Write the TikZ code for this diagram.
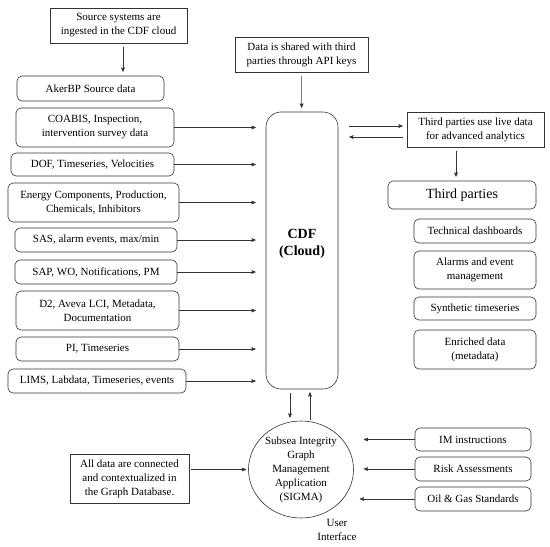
\documentclass[tikz,border=0pt]{standalone}
\usepackage{fontspec}
\setmainfont{Liberation Serif}
\usetikzlibrary{shapes,arrows,positioning,calc}
\tikzset{
  %Define standard arrow tip
  >=stealth',
  %Define style for plain boxes
  note/.style={
    rectangle,
    draw=black!80, line width=0.6pt,
    inner sep=2pt,
    minimum height=35pt,
    align=center},
  %Define style for rounded boxes
  punkt/.style={
    rectangle,
    rounded corners=5pt,
    draw=black!80, line width=0.6pt,
    inner sep=2pt,
    minimum height=24pt,
    align=center},
  % Define arrow style
  pil/.style={
    ->,
    black!80,
    line width=0.6pt}
}
\begin{document}
\begin{tikzpicture}[x=1pt,y=-1pt,font=\fontsize{11}{14}\selectfont]
  \useasboundingbox (0,0) rectangle (550,547);
  % left column: source systems
  \node[note, minimum width=137pt] (ingest) at (118.5,25.5) {Source systems are\\ ingested in the CDF cloud};
  \node[punkt, minimum width=147pt, minimum height=25pt] (aker) at (90.5,88.5) {AkerBP Source data};
  \node[punkt, minimum width=158pt, minimum height=39pt] (coabis) at (95,127.5) {COABIS, Inspection,\\ intervention survey data};
  \node[punkt, minimum width=163pt, minimum height=23pt] (dof) at (92.5,164.5) {DOF, Timeseries, Velocities};
  \node[punkt, minimum width=171pt, minimum height=39pt] (energy) at (93.5,202.5) {Energy Components, Production,\\ Chemicals, Inhibitors};
  \node[punkt, minimum width=162pt] (sas) at (96,240) {SAS, alarm events, max/min};
  \node[punkt, minimum width=162pt] (sap) at (96,272) {SAP, WO, Notifications, PM};
  \node[punkt, minimum width=163pt, minimum height=39pt] (dtwo) at (97.5,310.5) {D2, Aveva LCI, Metadata,\\ Documentation};
  \node[punkt, minimum width=163pt] (pi) at (97.5,349) {PI, Timeseries};
  \node[punkt, minimum width=178pt] (lims) at (97,381) {LIMS, Labdata, Timeseries, events};
  \node[note, minimum width=119pt, minimum height=49pt] (graphdb) at (129.5,478.5) {All data are connected\\ and contextualized in\\ the Graph Database.};
  % middle column
  \node[note, minimum width=133pt] (shared) at (301.5,54.5) {Data is shared with third\\ parties through API keys};
  \node[punkt, rounded corners=15pt, minimum width=72pt, minimum height=277pt,
        font=\fontsize{14}{17}\selectfont\bfseries] (cdf) at (302,250.5) {CDF\\ (Cloud)\\ \mbox{}};
  \node[ellipse, draw=black!80, line width=0.6pt, minimum width=105pt, minimum height=97pt,
        inner sep=0pt, align=center] (sigma) at (301,469.5) {Subsea Integrity\\ Graph\\ Management\\ Application\\ (SIGMA)};
  \node[align=center] (ui) at (337,530) {User\\ Interface};
  % right column: third parties
  \node[note, minimum width=137pt] (live) at (475.5,129.5) {Third parties use live data\\ for advanced analytics};
  \node[punkt, minimum width=148pt, minimum height=28pt, font=\fontsize{14}{17}\selectfont] (third) at (462,195) {Third parties};
  \node[punkt, minimum width=122pt] (dash) at (475,231) {Technical dashboards};
  \node[punkt, minimum width=122pt, minimum height=38pt] (alarm) at (475,270) {Alarms and event\\ management};
  \node[punkt, minimum width=122pt, minimum height=23pt] (synth) at (475,308.5) {Synthetic timeseries};
  \node[punkt, minimum width=122pt, minimum height=39pt] (enrich) at (475,349.5) {Enriched data\\ (metadata)};
  \node[punkt, minimum width=116pt, minimum height=23pt] (iminst) at (473,439.5) {IM instructions};
  \node[punkt, minimum width=116pt] (risk) at (473,469) {Risk Assessments};
  \node[punkt, minimum width=116pt] (oilgas) at (473,499) {Oil \& Gas Standards};
  % connectors
  \path[pil, shorten >=10pt]
  (coabis) edge (coabis -| cdf.west)
  (dof) edge (dof -| cdf.west)
  (energy) edge (energy -| cdf.west)
  (sas) edge (sas -| cdf.west)
  (sap) edge (sap -| cdf.west)
  (dtwo) edge (dtwo -| cdf.west)
  (pi) edge (pi -| cdf.west)
  (lims) edge (lims -| cdf.west)
  (iminst) edge (iminst -| sigma.east)
  (risk) edge (risk -| sigma.east)
  ;
  \path[pil, shorten <=4pt, shorten >=4pt]
  ($(ingest.south)+(4.5,0)$) edge ($(ingest.south |- aker.north)+(4.5,0)$)
  (shared) edge (cdf)
  ($(cdf.east |- live.west)+(0,-3.5)$) edge[shorten <=11pt] ($(live.west)+(0,-3.5)$)
  ($(live.west)+(0,7.5)$) edge[shorten >=11pt] ($(cdf.east |- live.west)+(0,7.5)$)
  ($(live.south)+(-19.5,0)$) edge ($(third.north)+(-6,0)$)
  ($(cdf.south)+(-12,0)$) edge[shorten >=3pt] ($(sigma.north)+(-11,0)$)
  ($(sigma.north)+(9,0)$) edge[shorten <=1pt, shorten >=3pt] ($(cdf.south)+(8,0)$)
  (oilgas) edge[shorten <=0pt, shorten >=6pt] (oilgas -| sigma.east)
  (graphdb.east |- sigma.west) edge[shorten <=2pt, shorten >=2pt] (sigma.west)
  ;
\end{tikzpicture}
\end{document}
